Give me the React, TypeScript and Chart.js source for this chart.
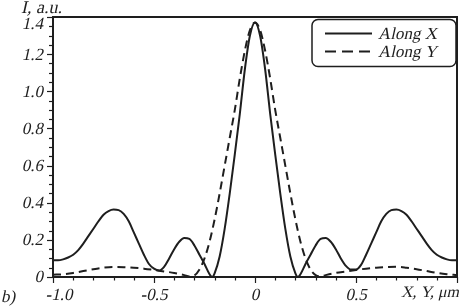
import { useEffect, useRef } from 'react';
import { Chart, registerables } from 'chart.js';
Chart.register(...registerables);

// ---- data ----
const ALONG_X_POS = [
  -1.0, -0.975, -0.95, -0.925, -0.9, -0.875, -0.85, -0.825, -0.8, -0.775, -0.75, -0.725, -0.7, -0.675, -0.65, -0.625, -0.6, -0.575, -0.55, -0.525, -0.5, -0.475, -0.45, -0.425, -0.4, -0.375, -0.35, -0.325, -0.3, -0.275, -0.25, -0.225, -0.212, -0.2, -0.175, -0.15, -0.125, -0.1, -0.075, -0.05, -0.025, 0,
  0.025, 0.05, 0.075, 0.1, 0.125, 0.15, 0.175, 0.2, 0.212, 0.225, 0.25, 0.275, 0.3, 0.325, 0.35, 0.375, 0.4, 0.425, 0.45, 0.475, 0.5, 0.525, 0.55, 0.575, 0.6, 0.625, 0.65, 0.675, 0.7, 0.725, 0.75, 0.775, 0.8, 0.825, 0.85, 0.875, 0.9, 0.925, 0.95, 0.975, 1.0,
];
const ALONG_X_VAL = [
  0.09, 0.09, 0.095, 0.105, 0.12, 0.145, 0.18, 0.22, 0.26, 0.30, 0.335, 0.355, 0.363, 0.36, 0.34, 0.30, 0.24, 0.18, 0.12, 0.07, 0.045, 0.035, 0.055, 0.10, 0.15, 0.19, 0.21, 0.205, 0.17, 0.12, 0.07, 0.015, 0.0, 0.02, 0.11, 0.26, 0.45, 0.66, 0.88, 1.12, 1.30, 1.37,
  1.30, 1.12, 0.88, 0.66, 0.45, 0.26, 0.11, 0.02, 0.0, 0.015, 0.07, 0.12, 0.17, 0.205, 0.21, 0.19, 0.15, 0.10, 0.06, 0.04, 0.04, 0.065, 0.12, 0.18, 0.24, 0.30, 0.34, 0.36, 0.363, 0.355, 0.335, 0.30, 0.26, 0.22, 0.18, 0.145, 0.12, 0.105, 0.095, 0.09, 0.09,
];
const ALONG_Y_POS = [
  -1.0, -0.95, -0.9, -0.85, -0.8, -0.75, -0.7, -0.65, -0.6, -0.55, -0.5, -0.45, -0.4, -0.35, -0.325, -0.3, -0.275, -0.25, -0.225, -0.2, -0.175, -0.15, -0.125, -0.1, -0.075, -0.05, -0.025, 0,
  0.025, 0.05, 0.075, 0.1, 0.125, 0.15, 0.175, 0.2, 0.225, 0.25, 0.275, 0.3, 0.325, 0.35, 0.4, 0.45, 0.5, 0.55, 0.6, 0.65, 0.7, 0.75, 0.8, 0.85, 0.9, 0.95, 1.0,
];
const ALONG_Y_VAL = [
  0.012, 0.015, 0.022, 0.032, 0.042, 0.05, 0.054, 0.053, 0.05, 0.045, 0.038, 0.03, 0.022, 0.01, 0.003, 0.008, 0.04, 0.10, 0.19, 0.31, 0.45, 0.60, 0.75, 0.90, 1.07, 1.22, 1.33, 1.37,
  1.33, 1.22, 1.07, 0.90, 0.75, 0.60, 0.45, 0.31, 0.19, 0.10, 0.04, 0.01, 0.003, 0.01, 0.022, 0.03, 0.038, 0.045, 0.05, 0.053, 0.055, 0.05, 0.042, 0.032, 0.022, 0.015, 0.01,
];
const X_TICK_LABELS = ['-1.0', '-0.5', '0', '0.5', ''];
const Y_TICK_LABELS = ['0', '0.2', '0.4', '0.6', '0.8', '1.0', '1.2', '1.4'];
const SERIES_NAMES = ['Along X', 'Along Y'];
const Y_TITLE = 'I, a.u.';
const X_TITLE = 'X, Y, \u03bcm';
const PANEL_LABEL = 'b)';

const INK = '#1e1e1e';
const FONT = '"Liberation Serif", "Times New Roman", serif';
const SKEW = -0.22;

function italicText(ctx: CanvasRenderingContext2D, text: string, x: number, y: number, size: number, align: CanvasTextAlign, baseline: CanvasTextBaseline) {
  ctx.save();
  ctx.font = `${size}px ${FONT}`;
  ctx.fillStyle = INK;
  ctx.textAlign = align;
  ctx.textBaseline = baseline;
  ctx.translate(x, y);
  ctx.transform(1, 0, SKEW, 1, 0, 0);
  ctx.fillText(text, 0, 0);
  ctx.restore();
}

const decorPlugin = {
  id: 'decor',
  afterDraw(chart: any) {
    const { ctx, chartArea: a, scales } = chart;
    const xs = scales.x;
    const ys = scales.y;
    ctx.save();
    ctx.strokeStyle = INK;
    ctx.lineWidth = 2;
    ctx.setLineDash([]);
    ctx.beginPath();
    ctx.rect(a.left, a.top, a.right - a.left, a.bottom - a.top);
    ctx.stroke();
    // minor/major tick marks
    ctx.lineWidth = 1.2;
    for (let i = 0; i <= 28; i++) {
      const py = Math.round(ys.getPixelForValue(i * 0.05)) + 0.5;
      const len = i % 4 === 0 ? 6 : 4;
      ctx.beginPath();
      ctx.moveTo(a.left - len, py);
      ctx.lineTo(a.left, py);
      ctx.stroke();
    }
    for (let i = 0; i <= 20; i++) {
      const px = Math.round(xs.getPixelForValue(-1 + i * 0.1)) + 0.5;
      const len = i % 5 === 0 ? 6 : 3.5;
      ctx.beginPath();
      ctx.moveTo(px, a.bottom);
      ctx.lineTo(px, a.bottom + len);
      ctx.stroke();
    }
    ctx.restore();
    // tick labels from the scales' own ticks
    ys.ticks.forEach((t: any) => {
      const i = Math.round(t.value / 0.2);
      const label = Y_TICK_LABELS[i] ?? '';
      let py = ys.getPixelForValue(t.value) + 1;
      if (i === Y_TICK_LABELS.length - 1) py += 7;
      italicText(ctx, label, a.left - 9, py, 17, 'right', 'middle');
    });
    xs.ticks.forEach((t: any) => {
      const i = Math.round((t.value + 1) * 2);
      const label = X_TICK_LABELS[i] ?? '';
      let px = xs.getPixelForValue(t.value);
      if (i === 0) px += 6;
      italicText(ctx, label, px, a.bottom + 23, 17, 'center', 'alphabetic');
    });
    // titles
    italicText(ctx, Y_TITLE, 21, 13, 18, 'left', 'alphabetic');
    italicText(ctx, X_TITLE, 459, 297, 16, 'right', 'alphabetic');
    italicText(ctx, PANEL_LABEL, 1, 302, 17, 'left', 'alphabetic');
    // legend box
    ctx.save();
    ctx.strokeStyle = INK;
    const bx = 312, by = 19.5, bw = 144, bh = 47, r = 6;
    ctx.lineWidth = 1.5;
    ctx.beginPath();
    ctx.moveTo(bx + r, by);
    ctx.lineTo(bx + bw - r, by);
    ctx.arcTo(bx + bw, by, bx + bw, by + r, r);
    ctx.lineTo(bx + bw, by + bh - r);
    ctx.arcTo(bx + bw, by + bh, bx + bw - r, by + bh, r);
    ctx.lineTo(bx + r, by + bh);
    ctx.arcTo(bx, by + bh, bx, by + bh - r, r);
    ctx.lineTo(bx, by + r);
    ctx.arcTo(bx, by, bx + r, by, r);
    ctx.closePath();
    ctx.fillStyle = '#fff';
    ctx.fill();
    ctx.stroke();
    ctx.lineWidth = 2;
    ctx.beginPath();
    ctx.moveTo(325, 33.5);
    ctx.lineTo(372, 33.5);
    ctx.stroke();
    ctx.setLineDash([11, 6]);
    ctx.beginPath();
    ctx.moveTo(325, 51.5);
    ctx.lineTo(372, 51.5);
    ctx.stroke();
    ctx.restore();
    italicText(ctx, SERIES_NAMES[0], 378, 39, 17, 'left', 'alphabetic');
    italicText(ctx, SERIES_NAMES[1], 378, 57, 17, 'left', 'alphabetic');
  },
};

export default function App() {
  const ref = useRef<HTMLCanvasElement | null>(null);
  useEffect(() => {
    if (!ref.current) return;
    const chart = new Chart(ref.current, {
      type: 'line',
      data: {
        datasets: [
          {
            label: SERIES_NAMES[0],
            data: ALONG_X_POS.map((x, i) => ({ x, y: ALONG_X_VAL[i] })),
            borderColor: INK,
            borderWidth: 2,
            pointRadius: 0,
            cubicInterpolationMode: 'monotone',
          },
          {
            label: SERIES_NAMES[1],
            data: ALONG_Y_POS.map((x, i) => ({ x, y: ALONG_Y_VAL[i] })),
            borderColor: INK,
            borderWidth: 2,
            borderDash: [8, 5],
            pointRadius: 0,
            cubicInterpolationMode: 'monotone',
          },
        ],
      },
      options: {
        animation: false,
        responsive: false,
        devicePixelRatio: 1,
        layout: { padding: { top: 17, right: 3, left: 0, bottom: 0 } },
        plugins: { legend: { display: false }, tooltip: { enabled: false } },
        scales: {
          x: {
            type: 'linear',
            min: -1,
            max: 1,
            grid: { display: false },
            border: { display: false },
            ticks: { stepSize: 0.5, autoSkip: false, display: false },
            afterFit: (s: any) => { s.height = 30; },
          },
          y: {
            type: 'linear',
            min: 0,
            max: 1.4,
            grid: { display: false },
            border: { display: false },
            ticks: { stepSize: 0.2, autoSkip: false, display: false },
            afterFit: (s: any) => { s.width = 53; },
          },
        },
      } as any,
      plugins: [decorPlugin],
    });
    return () => chart.destroy();
  }, []);
  return (
    <div style={{ position: 'absolute', left: 0, top: 0, width: 460, height: 307, background: '#fff' }}>
      <canvas ref={ref} width={460} height={307} />
    </div>
  );
}
